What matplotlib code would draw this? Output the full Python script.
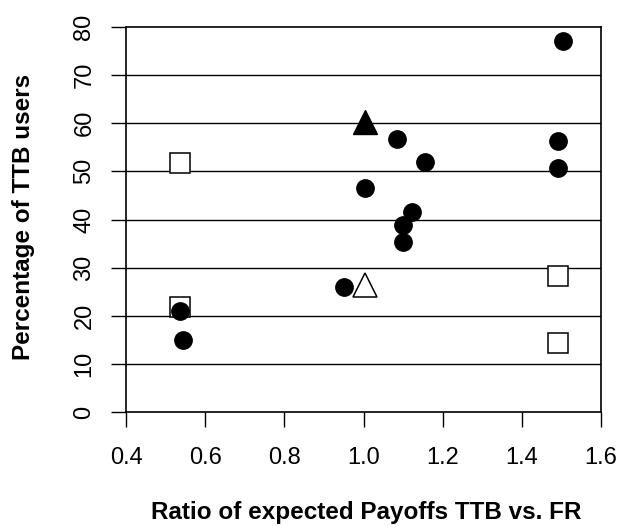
import matplotlib
matplotlib.use("Agg")
import matplotlib.pyplot as plt

plt.rcParams['font.family'] = ['Liberation Sans', 'DejaVu Sans']

# Data
circ_x = [1.505, 1.084, 1.155, 1.492, 1.492, 1.004, 1.122, 1.099, 1.099, 0.951, 0.536, 0.545]
circ_y = [77.0, 56.8, 52.0, 56.3, 50.8, 46.6, 41.6, 38.9, 35.4, 25.9, 20.9, 15.0]
sq_x = [0.536, 0.536, 1.491, 1.491]
sq_y = [51.7, 21.9, 28.3, 14.3]
tri_fill_x = [1.004]
tri_fill_y = [60.3]
tri_open_x = [1.004]
tri_open_y = [26.3]

xticks = [0.4, 0.6, 0.8, 1.0, 1.2, 1.4, 1.6]
xticklabels = ["0.4", "0.6", "0.8", "1.0", "1.2", "1.4", "1.6"]
yticks = [0, 10, 20, 30, 40, 50, 60, 70, 80]
yticklabels = [str(v) for v in yticks]
grid_y = [10, 20, 30, 40, 50, 60, 70]

fig = plt.figure(figsize=(6.19, 5.26), dpi=100)
ax = fig.add_axes([126/619, 1-412/526, (601-126)/619, (412-27)/526])

for g in grid_y:
    ax.axhline(g, color='black', lw=1.0, zorder=1)

ax.plot(sq_x, sq_y, linestyle='none', marker='s', markersize=14.5,
        markerfacecolor='white', markeredgecolor='black', markeredgewidth=1.1, zorder=3)
ax.plot(circ_x, circ_y, linestyle='none', marker='o', markersize=12.5,
        color='black', zorder=4)
ax.plot(tri_fill_x, tri_fill_y, linestyle='none', marker='^', markersize=17,
        color='black', zorder=4)
ax.plot(tri_open_x, tri_open_y, linestyle='none', marker='^', markersize=17,
        markerfacecolor='white', markeredgecolor='black', markeredgewidth=1.1, zorder=4)

ax.set_xlim(0.4, 1.6)
ax.set_ylim(0, 80)
ax.set_xticks(xticks)
ax.set_xticklabels(xticklabels)
ax.set_yticks(yticks)
ax.set_yticklabels(yticklabels, rotation=90, va='center')
ax.tick_params(axis='both', direction='out', length=11, width=1, labelsize=17, colors='black')
ax.tick_params(axis='x', pad=14)
ax.tick_params(axis='y', pad=11)
for s in ax.spines.values():
    s.set_linewidth(1.2)
    s.set_color('black')

fig.text(366/619, 1-513/526, "Ratio of expected Payoffs TTB vs. FR", ha='center', va='center',
         fontsize=17.5, fontweight='bold')
fig.text(24/619, 1-217/526, "Percentage of TTB users", ha='center', va='center',
         fontsize=17.5, fontweight='bold', rotation=90)

fig.savefig("out.png", dpi=100)
